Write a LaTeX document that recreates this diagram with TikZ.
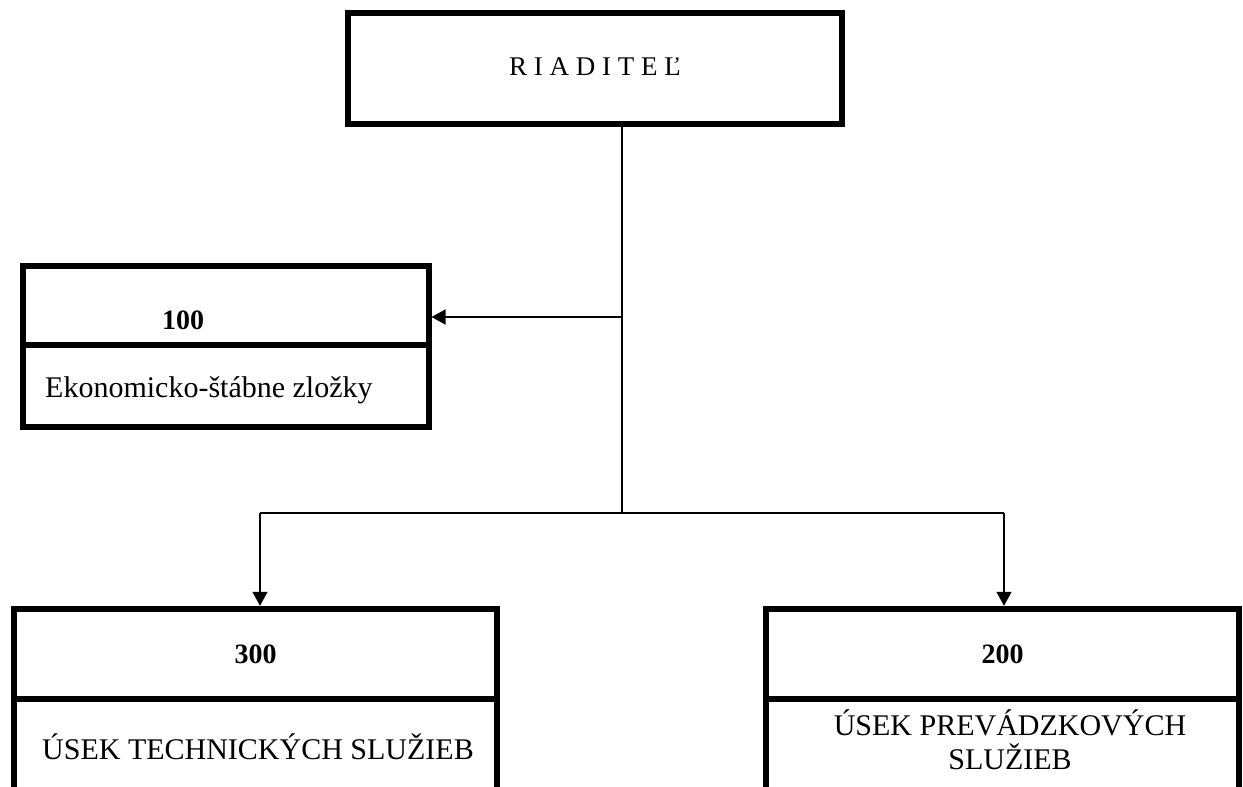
\documentclass[tikz,border=0pt]{standalone}
\usepackage{fontspec}
\setmainfont{Liberation Serif}
\usetikzlibrary{arrows.meta}

\begin{document}
\begin{tikzpicture}[x=1pt, y=-1pt,
    box/.style={draw, line width=6pt, outer sep=0pt, inner sep=0pt, font=\fontsize{28}{33}\selectfont\bfseries},
    side/.style={line width=6pt},
    txt/.style={inner sep=0pt, font=\fontsize{30}{34}\selectfont},
    link/.style={line width=1.5pt},
    arrow/.style={link, shorten >=3pt, -{Triangle[length=14pt, width=15pt]}}]
    \useasboundingbox (0,0) rectangle (1243,787);
    \clip (0,0) rectangle (1243,787);
    % Nodes
    \node[box, minimum width=494pt, minimum height=111pt] (boss) at (595,68.5) {};
    \node[txt, font=\fontsize{27}{32}\selectfont] (bossname) at (595,67) {R I A D I T E Ľ};
    \node[box, minimum width=406pt, minimum height=161pt] (econ) at (225.5,346.5) {};
    \node[txt, font=\fontsize{28}{33}\selectfont\bfseries] (econnum) at (183,320) {100};
    \node[txt, anchor=west] (econname) at (45,390) {Ekonomicko-štábne zložky};
    \node[box, minimum width=483pt, minimum height=90.5pt] (tech) at (255.5,654) {300};
    \node[txt] (techname) at (258,747) {ÚSEK TECHNICKÝCH SLUŽIEB};
    \node[box, minimum width=473pt, minimum height=90.5pt] (ops) at (1002.5,654) {200};
    \node[txt, align=center] (opsname) at (1010,740) {ÚSEK PREVÁDZKOVÝCH\\SLUŽIEB};
    \coordinate (mid) at (622,317);
    \coordinate (fork) at (622,513);
    \coordinate (forkL) at (260,513);
    \coordinate (forkR) at (1004,513);

    % Box parts
    \draw[side] (econ.west |- 0,345) -- (econ.east |- 0,345);
    \draw[side] (tech.south west) -- ++(0,100);
    \draw[side] (tech.south east) -- ++(0,100);
    \draw[side] (ops.south west) -- ++(0,100);
    \draw[side] (ops.south east) -- ++(0,100);

    % Edges
    \draw[link] (boss.south -| fork) -- (fork);
    \draw[arrow] (mid) -- (mid -| econ.east);
    \draw[link] (forkL) -- (forkR);
    \draw[arrow] (forkL) -- (forkL |- tech.north);
    \draw[arrow] (forkR) -- (forkR |- ops.north);
\end{tikzpicture}
\end{document}
